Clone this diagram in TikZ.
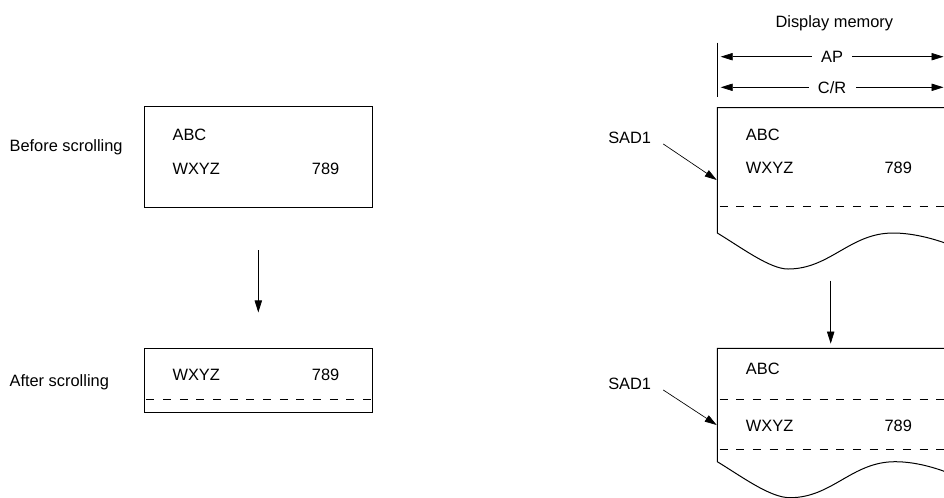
\documentclass[tikz,border=0pt]{standalone}
\usepackage{fontspec}
\setmainfont{Liberation Sans}
\usetikzlibrary{positioning, arrows.meta}

\begin{document}
\begin{tikzpicture}[x=0.75pt, y=-0.75pt,
    txt/.style={font=\fontsize{12.3}{14}\selectfont, inner sep=0pt, anchor=base west},
    scrbox/.style={draw, line width=0.75pt, minimum width=171pt, inner sep=0pt},
    rowline/.style={dash pattern=on 6pt off 6.5pt, line width=0.6pt},
    memline/.style={line width=0.75pt},
    arr/.style={line width=0.5pt, -{Triangle[length=9pt, width=5.5pt]}},
    dimarr/.style={line width=0.5pt, {Triangle[length=9pt, width=5.5pt]}-{Triangle[length=9pt, width=5.5pt]}},
  ]
  \clip (0,0) rectangle (944,497);

  % Screen before / after scrolling
  \node[scrbox, minimum height=75.75pt] (before) at (258.3,157.2) {};
  \node[scrbox, minimum height=48.3pt] (after) at (258.3,380.5) {};
  \node[txt] (beforelbl) at (9.3,151.7) {Before scrolling};
  \node[txt] (afterlbl) at (9.3,386.7) {After scrolling};
  \node[txt] (b1abc) at (172.3,140.5) {ABC};
  \node[txt] (b1wxyz) at (172.3,174) {WXYZ};
  \node[txt] (b1num) at (311.7,174) {789};
  \node[txt] (b2wxyz) at (172.3,380.7) {WXYZ};
  \node[txt] (b2num) at (311.7,380.7) {789};
  \draw[rowline] ([xshift=2pt, yshift=10pt]after.south west) -- ([yshift=10pt]after.south east);
  \draw[arr, shorten <=31.5pt, shorten >=26.5pt] (before) -- (after);

  % Display memory, width markers
  \node[txt, anchor=base] (dispmem) at (834.3,27) {Display memory};
  \coordinate (dimtop) at (717.3,42.7);
  \coordinate (dimbot) at (717.3,96.7);
  \draw[line width=0.5pt] (dimtop) -- (dimbot);
  \coordinate (apL) at (720.7,56.7);
  \coordinate (apR) at (943.5,56.7);
  \coordinate (crL) at (720.7,87.3);
  \coordinate (crR) at (943.5,87.3);
  \draw[dimarr] (apL) -- node[txt, anchor=center, fill=white, inner xsep=7pt] (ap) {AP} (apR);
  \draw[dimarr] (crL) -- node[txt, anchor=center, fill=white, inner xsep=7pt] (cr) {C/R} (crR);

  % Memory before scrolling
  \draw[memline] (960,107.7) -- (717.3,107.7) -- (717.3,233)
    .. controls (742,248) and (770,269) .. (788,269)
    .. controls (830,269) and (850,233) .. (893,233)
    .. controls (915,233) and (940,240) .. (960,249);
  \draw[rowline] (719.5,206.7) -- (960,206.7);
  \node[txt] (m1abc) at (745.7,140) {ABC};
  \node[txt] (m1wxyz) at (745.7,173.3) {WXYZ};
  \node[txt] (m1num) at (884.3,173.3) {789};
  \node[txt] (sad1a) at (608,143.3) {SAD1};
  \coordinate (sad1aS) at (663.3,144);
  \coordinate (sad1aE) at (716.7,180);
  \draw[arr] (sad1aS) -- (sad1aE);

  % Memory after scrolling
  \coordinate (wave1) at (830.7,280.7);
  \coordinate (mem2) at (830.7,348.3);
  \draw[arr, shorten >=3.5pt] (wave1) -- (mem2);
  \draw[memline] (960,348.3) -- (717.3,348.3) -- (717.3,461.7)
    .. controls (742,476.7) and (770,497.7) .. (790,497.7)
    .. controls (832,497.7) and (852,461.7) .. (895,461.7)
    .. controls (917,461.7) and (940,468.7) .. (960,477.7);
  \draw[rowline] (719.5,399) -- (960,399);
  \draw[rowline] (719.5,449.3) -- (960,449.3);
  \node[txt] (m2abc) at (745.7,374) {ABC};
  \node[txt] (m2wxyz) at (745.7,431.5) {WXYZ};
  \node[txt] (m2num) at (884.3,431.5) {789};
  \node[txt] (sad1b) at (608,389.3) {SAD1};
  \coordinate (sad1bS) at (663.3,390);
  \coordinate (sad1bE) at (716.7,425);
  \draw[arr] (sad1bS) -- (sad1bE);
\end{tikzpicture}
\end{document}
